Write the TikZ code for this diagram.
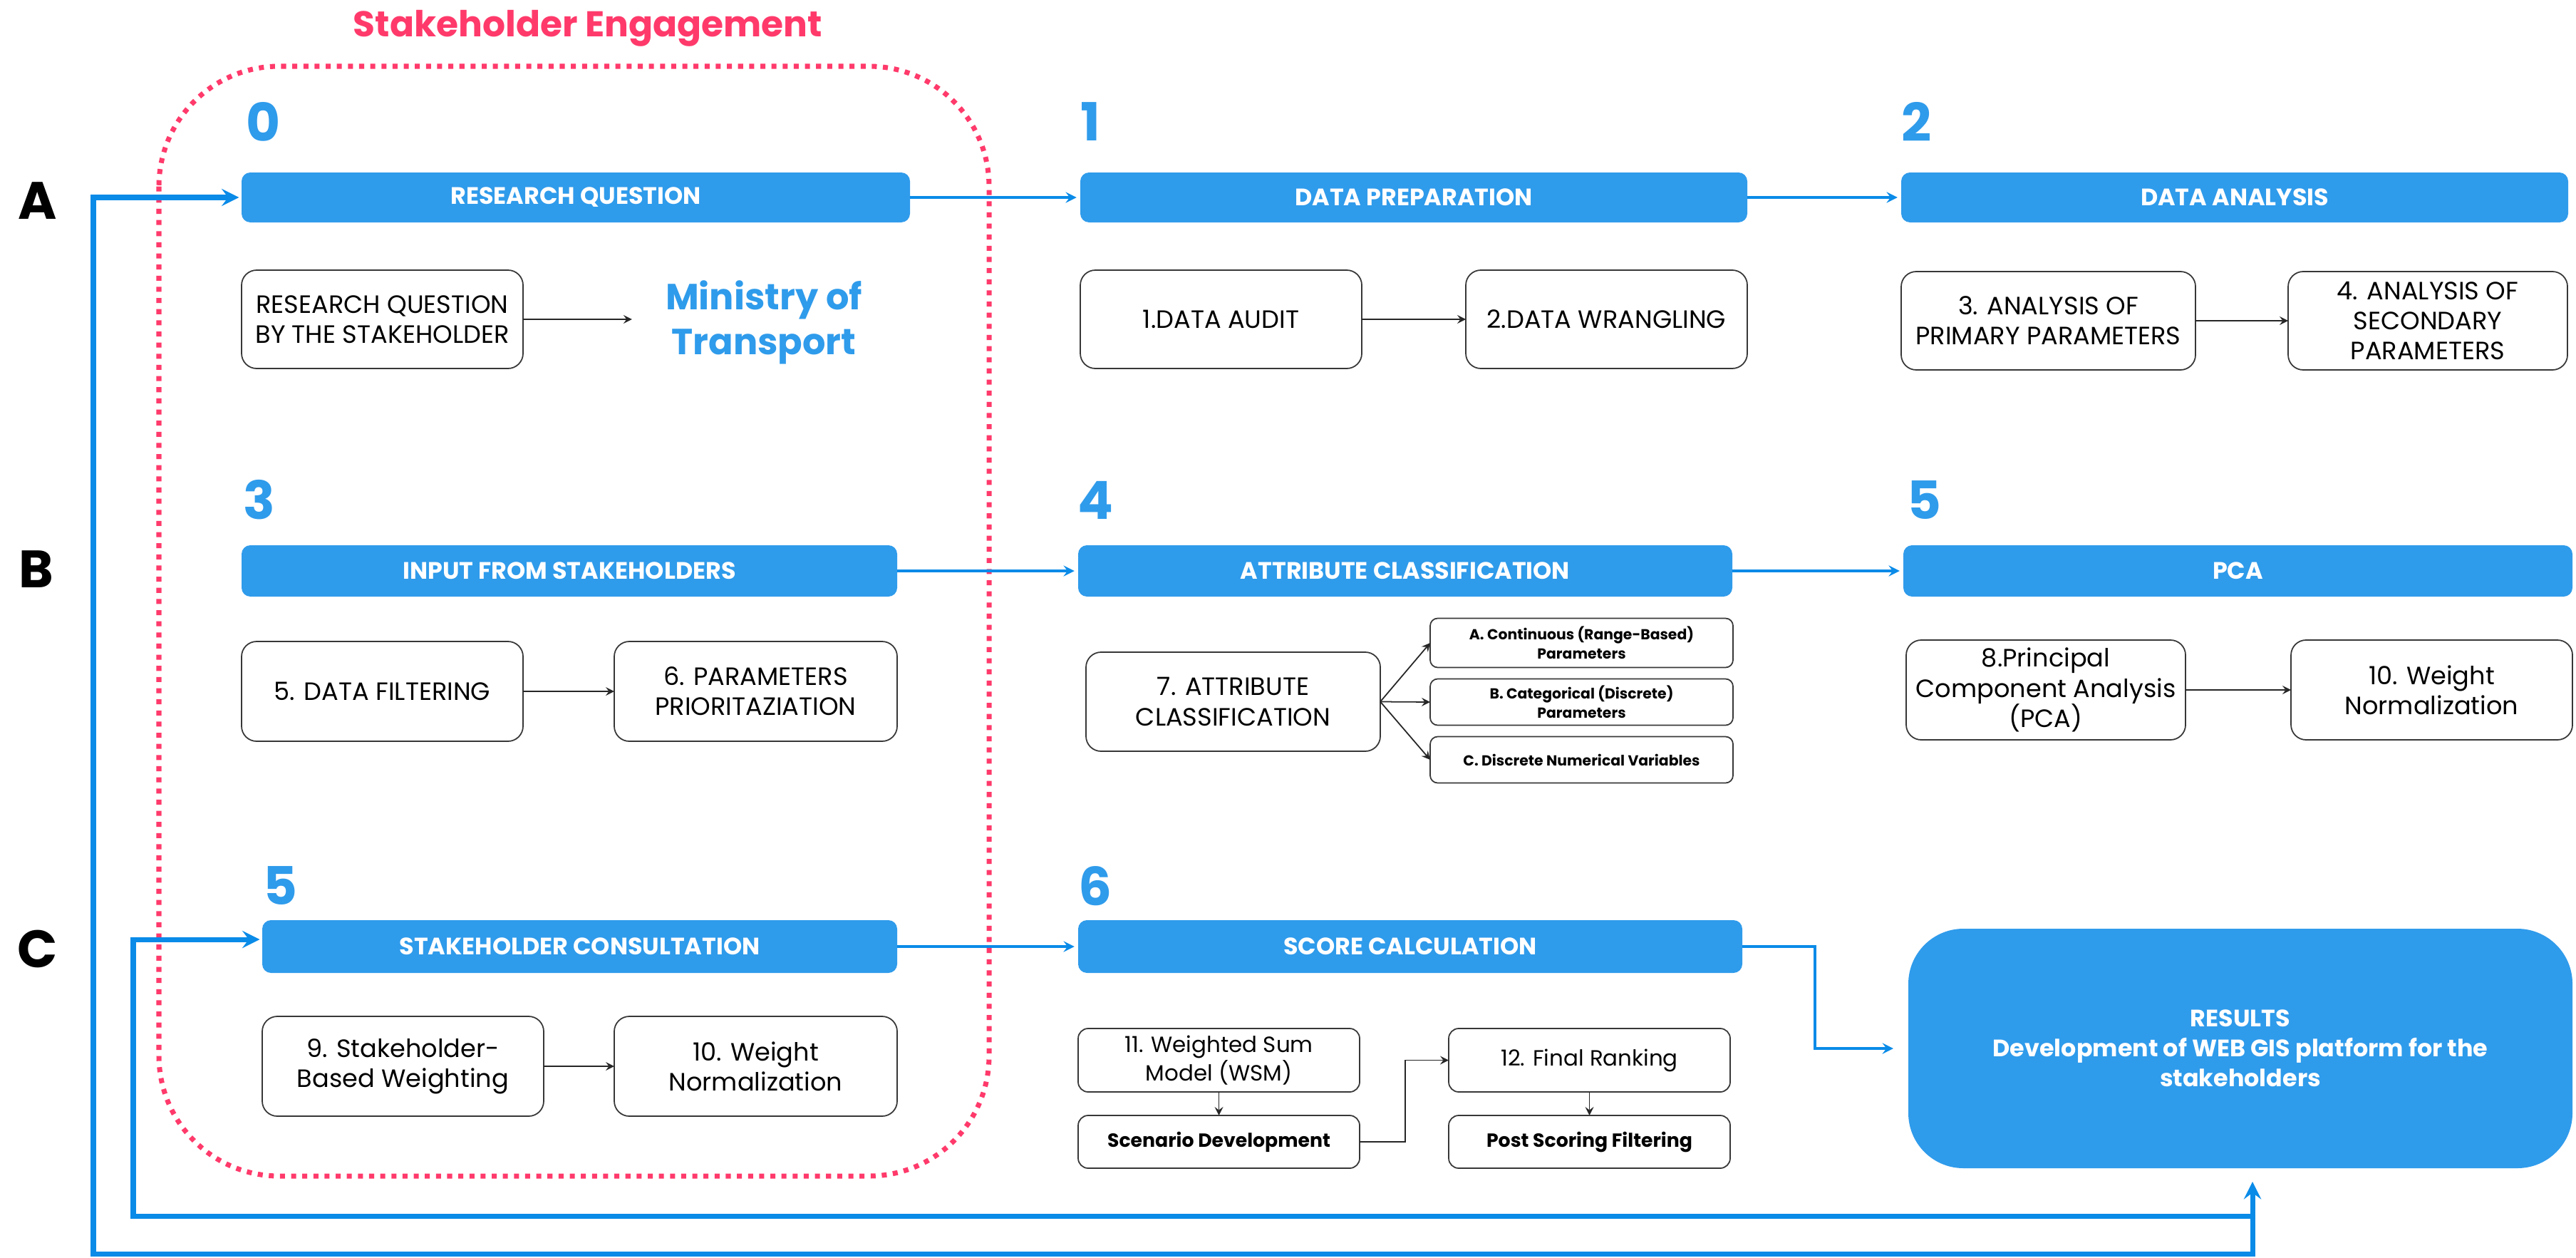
\documentclass[tikz,border=0pt]{standalone}
\usepackage{fontspec}
\setmainfont{Poppins}
\usepackage{xcolor}
\usepackage{tikz}
\usetikzlibrary{shapes.geometric, arrows}
\definecolor{barblue}{RGB}{47,155,235}
\definecolor{lineblue}{RGB}{10,139,232}
\definecolor{engagepink}{RGB}{255,58,107}
\definecolor{boxgray}{RGB}{55,55,55}
\tikzset{
every picture/.style={line width=0.8pt, >=stealth},
%%%%%%%%%%  Node styles
stage_bar/.style={fill=barblue, rounded corners=3.5pt, minimum height=0.70cm,
                  inner sep=0pt, outer sep=0pt, text=white,
                  font=\bfseries\fontsize{9.5}{11}\selectfont},
step_box/.style={draw=boxgray, line width=0.5pt, rounded corners=6pt,
                 inner sep=1pt, outer sep=0pt, align=center,
                 font=\fontsize{10}{12}\selectfont},
small_box/.style={draw=boxgray, line width=0.5pt, rounded corners=3pt,
                  inner sep=1pt, outer sep=0pt, align=center,
                  font=\bfseries\fontsize{5.8}{7.6}\selectfont},
result_box/.style={fill=barblue, rounded corners=22pt, inner sep=2pt,
                   outer sep=0pt, text=white, align=center,
                   font=\bfseries\fontsize{9.5}{12}\selectfont},
stage_num/.style={text=barblue, inner sep=0pt,
                  font=\bfseries\fontsize{21}{21}\selectfont},
row_label/.style={inner sep=0pt, font=\bfseries\fontsize{21}{21}\selectfont},
box_wh/.style args={#1,#2}{minimum width=#1cm, minimum height=#2cm},
%%%% different line styles:
flow/.style={->, line width=0.5pt, black!85},
link/.style={->, line width=0.9pt, lineblue, shorten >=1.5pt},
feedback/.style={line width=2pt, lineblue},
engage/.style={draw=engagepink, line width=2pt, dash pattern=on 2pt off 2.45pt,
               rounded corners=48pt}
}

\begin{document}
\begin{tikzpicture}
\useasboundingbox (0,0) rectangle (36.15,-17.64);
%%stakeholder engagement frame
\draw[engage] (2.23,-0.93) rectangle (13.88,-16.50);
\node[text=engagepink, font=\bfseries\fontsize{14.3}{16}\selectfont]
  (engtitle) at (8.25,-0.40) {Stakeholder Engagement};
%%row labels
\node[row_label] (la) at (0.53,-2.82) {A};
\node[row_label] (lb) at (0.51,-7.99) {B};
\node[row_label] (lc) at (0.53,-13.31) {C};
%%stage numbers
\node[stage_num] (n0) at (3.70,-1.71) {0};
\node[stage_num] (n1) at (15.30,-1.71) {1};
\node[stage_num] (n2) at (26.90,-1.71) {2};
\node[stage_num] (n3) at (3.64,-7.01) {3};
\node[stage_num] (n4) at (15.37,-7.02) {4};
\node[stage_num] (n5) at (27.00,-7.02) {5};
\node[stage_num] (n5c) at (3.93,-12.43) {5};
\node[stage_num] (n6) at (15.37,-12.43) {6};
%%row A
\node[stage_bar, minimum width=9.38cm] (rq) at (8.08,-2.77) {RESEARCH QUESTION};
\node[stage_bar, minimum width=9.36cm] (dp) at (19.84,-2.77) {DATA PREPARATION};
\node[stage_bar, minimum width=9.36cm] (da) at (31.36,-2.77) {DATA ANALYSIS};
\node[step_box, box_wh={3.95,1.38}] (rqbox) at (5.365,-4.48)
  {RESEARCH QUESTION\\BY THE STAKEHOLDER};
\node[text=barblue, align=center, font=\bfseries\fontsize{14.5}{18}\selectfont]
  (ministry) at (10.72,-4.52) {Ministry of\\Transport};
\node[step_box, box_wh={3.95,1.38}] (audit) at (17.135,-4.48) {1.DATA AUDIT};
\node[step_box, box_wh={3.95,1.38}] (wrangle) at (22.545,-4.48) {2.DATA WRANGLING};
\node[step_box, box_wh={4.13,1.38}] (primary) at (28.745,-4.50)
  {3. ANALYSIS OF\\PRIMARY PARAMETERS};
\node[step_box, box_wh={3.92,1.38}] (secondary) at (34.07,-4.50)
  {4. ANALYSIS OF\\SECONDARY\\PARAMETERS};
%%row B
\node[stage_bar, minimum width=9.20cm, minimum height=0.72cm] (input) at (7.99,-8.01)
  {INPUT FROM STAKEHOLDERS};
\node[stage_bar, minimum width=9.18cm, minimum height=0.72cm] (attrbar) at (19.72,-8.01)
  {ATTRIBUTE CLASSIFICATION};
\node[stage_bar, minimum width=9.39cm, minimum height=0.72cm] (pcabar) at (31.405,-8.01)
  {PCA};
\node[step_box, box_wh={3.95,1.40}] (filter) at (5.365,-9.70) {5. DATA FILTERING};
\node[step_box, box_wh={3.97,1.40}] (prior) at (10.605,-9.70)
  {6. PARAMETERS\\PRIORITAZIATION};
\node[step_box, box_wh={4.13,1.39}] (attr) at (17.305,-9.845)
  {7. ATTRIBUTE\\CLASSIFICATION};
\node[small_box, box_wh={4.25,0.69}] (typea) at (22.195,-9.02)
  {A. Continuous (Range-Based)\\Parameters};
\node[small_box, box_wh={4.25,0.65}] (typeb) at (22.195,-9.85)
  {B. Categorical (Discrete)\\Parameters};
\node[small_box, box_wh={4.25,0.65}] (typec) at (22.195,-10.66)
  {C. Discrete Numerical Variables};
\node[step_box, box_wh={3.92,1.40}] (pcabox) at (28.71,-9.68)
  {8.Principal\\Component Analysis\\(PCA)};
\node[step_box, box_wh={3.95,1.40}] (wnorm) at (34.125,-9.68)
  {10. Weight\\Normalization};
%%row C
\node[stage_bar, minimum width=8.91cm, minimum height=0.74cm] (consult) at (8.135,-13.28)
  {STAKEHOLDER CONSULTATION};
\node[stage_bar, minimum width=9.32cm, minimum height=0.74cm] (score) at (19.79,-13.28)
  {SCORE CALCULATION};
\node[step_box, box_wh={3.95,1.40}] (sweight) at (5.655,-14.96)
  {9. Stakeholder-\\Based Weighting};
\node[step_box, box_wh={3.97,1.40}] (wnormc) at (10.605,-14.96)
  {10. Weight\\Normalization};
\node[step_box, rounded corners=4pt, box_wh={3.95,0.89},
      font=\fontsize{8.8}{10.4}\selectfont] (wsm) at (17.105,-14.875)
  {11. Weighted Sum\\Model (WSM)};
\node[step_box, rounded corners=4pt, box_wh={3.95,0.74},
      font=\bfseries\fontsize{7.6}{9}\selectfont] (scen) at (17.105,-16.02)
  {Scenario Development};
\node[step_box, rounded corners=4pt, box_wh={3.95,0.89},
      font=\fontsize{8.8}{10.4}\selectfont] (rank) at (22.305,-14.875)
  {12. Final Ranking};
\node[step_box, rounded corners=4pt, box_wh={3.95,0.74},
      font=\bfseries\fontsize{7.6}{9}\selectfont] (post) at (22.305,-16.02)
  {Post Scoring Filtering};
\node[result_box, box_wh={9.32,3.36}] (results) at (31.44,-14.71)
  {RESULTS\\Development of WEB GIS platform for the\\stakeholders};
\coordinate (resin) at ([xshift=0.17cm]results.south);
%%stage links
\draw[link] (rq.east) -- (dp.west);
\draw[link] (dp.east) -- (da.west);
\draw[link] (input.east) -- (attrbar.west);
\draw[link] (attrbar.east) -- (pcabar.west);
\draw[link] (consult.east) -- (score.west);
\draw[link, shorten >=6pt] (score.east) -- ++(1.02,0) |- (results.west);
%%inner steps
\draw[flow, shorten >=0.34cm] (rqbox.east) -- (rqbox.east -| ministry.west);
\draw[flow] (audit) -- (wrangle);
\draw[flow] (primary) -- (secondary);
\draw[flow] (filter) -- (prior);
\draw[flow] (attr.east) -- (typea.west);
\draw[flow] (attr.east) -- (typeb.west);
\draw[flow] (attr.east) -- (typec.west);
\draw[flow] (pcabox) -- (wnorm);
\draw[flow] (sweight) -- (wnormc);
\draw[flow] (wsm) -- (scen);
\draw[flow] (rank) -- (post);
\draw[flow] (scen.east) -- ++(0.64,0) |- (rank.west);
%%feedback loops
\draw[feedback, <->, shorten <=0.19cm, shorten >=1pt]
  (resin) |- (1.31,-17.59) |- (rq.west);
\draw[feedback, ->, shorten >=1pt]
  (resin |- 0,-17.06) -| (1.87,-13.18) -- (consult.west |- 0,-13.18);
\end{tikzpicture}
\end{document}
